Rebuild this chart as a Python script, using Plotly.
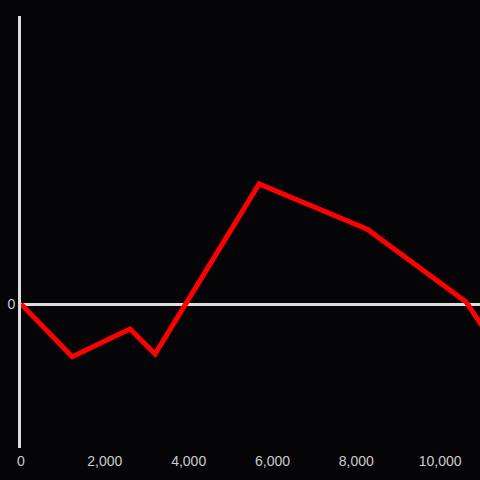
import plotly.graph_objects as go

# series
x_vals = [0, 1220, 2600, 3200, 5680, 8260, 10620, 11200]
y_vals = [0, -55, -26, -52, 125, 78, 2, -36]

x_ticks = [0, 2000, 4000, 6000, 8000, 10000]
x_ticktext = ["0", "2,000", "4,000", "6,000", "8,000", "10,000"]

bg = "#050407"
axis_col = "#dddddd"

fig = go.Figure()
fig.add_trace(go.Scatter(
    x=x_vals, y=y_vals, mode="lines",
    line=dict(color="#ff0000", width=5),
    hoverinfo="skip",
))

fig.update_layout(
    width=480, height=480,
    margin=dict(l=21, r=0, t=16, b=32),
    paper_bgcolor=bg,
    plot_bgcolor=bg,
    showlegend=False,
    font=dict(family="Liberation Sans, Arial", size=14, color="#cccccc"),
    xaxis=dict(
        range=[0, 10950],
        tickvals=x_ticks, ticktext=x_ticktext,
        showgrid=False, zeroline=False, showline=False, ticks="",
        ticklabelstandoff=3,
    ),
    yaxis=dict(
        range=[-150, 300],
        tickvals=[0], ticktext=["0"],
        showgrid=False,
        zeroline=True, zerolinecolor=axis_col, zerolinewidth=3,
        showline=True, linecolor=axis_col, linewidth=3,
        ticks="",
    ),
)

fig.write_html(
    "out.html",
    config={"displayModeBar": False},
    post_script="document.body.style.margin='0';document.body.style.background='%s';" % bg,
)
